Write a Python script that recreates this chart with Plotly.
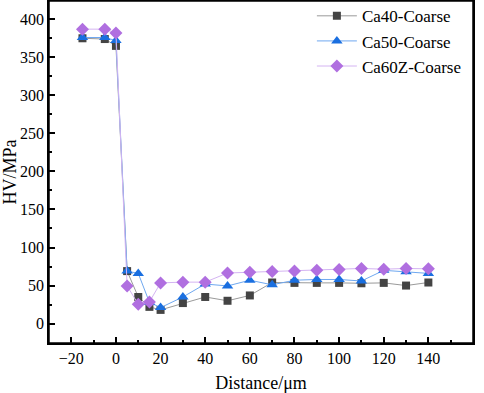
import plotly.graph_objects as go

distance = [-15, -5, 0, 5, 10, 15, 20, 30, 40, 50, 60, 70, 80, 90, 100, 110, 120, 130, 140]
ca40 = [375, 374, 365, 69, 35, 22, 18, 27, 35, 30, 37, 54, 53.5, 53.5, 53.5, 53, 53.5, 50, 54]
ca50 = [376, 376, 372, 69, 66, 28, 21, 35, 52, 49.5, 57, 51, 57, 58, 58, 56, 70, 68, 66]
ca60z = [387, 387, 382, 49.5, 25.5, 28.5, 53.5, 54.5, 54.5, 66.5, 67.5, 68.5, 69, 70, 71, 72.5, 71.5, 72.5, 72]
names = ["Ca40-Coarse", "Ca50-Coarse", "Ca60Z-Coarse"]

fig = go.Figure()
fig.add_trace(go.Scatter(x=distance, y=ca40, name=names[0], mode="lines+markers",
                         line=dict(color="#9a9a9a", width=1),
                         marker=dict(symbol="square", size=8, color="#444444")))
fig.add_trace(go.Scatter(x=distance, y=ca50, name=names[1], mode="lines+markers",
                         line=dict(color="#6fa8f0", width=1),
                         marker=dict(symbol="triangle-up", size=10, color="#1a6fe0")))
fig.add_trace(go.Scatter(x=distance, y=ca60z, name=names[2], mode="lines+markers",
                         line=dict(color="#d4b4f2", width=1),
                         marker=dict(symbol="diamond", size=10, color="#b06fe0")))

font_family = "Liberation Serif"
axis_common = dict(showline=True, linecolor="black", linewidth=1.5, mirror=True,
                   ticks="inside", ticklen=6, tickwidth=1.5, tickcolor="black",
                   showgrid=False, zeroline=False, automargin=False,
                   tickfont=dict(family=font_family, size=16, color="black"))
fig.update_xaxes(range=[-30, 160], tick0=-20, dtick=20,
                 minor=dict(ticks="inside", ticklen=3, tickwidth=1.5, tickcolor="black", dtick=10, tick0=0),
                 title=dict(text="Distance/μm", font=dict(family=font_family, size=18, color="black"), standoff=14),
                 **axis_common)
fig.update_yaxes(range=[-25.5, 424], tick0=0, dtick=50,
                 minor=dict(ticks="inside", ticklen=3, tickwidth=1.5, tickcolor="black", dtick=25, tick0=0),
                 title=dict(text="HV/MPa", font=dict(family=font_family, size=18, color="black"), standoff=8),
                 **axis_common)
fig.add_shape(type="rect", xref="paper", yref="paper", x0=0, x1=1, y0=0, y1=1,
              line=dict(color="black", width=1.5), fillcolor="rgba(0,0,0,0)", layer="above")
fig.update_layout(
    width=484, height=393,
    margin=dict(l=49, r=11, t=1, b=50, autoexpand=False),
    plot_bgcolor="white", paper_bgcolor="white",
    legend=dict(x=0.62, y=1.008, xanchor="left", yanchor="top", bgcolor="rgba(0,0,0,0)",
                font=dict(family=font_family, size=17, color="black"),
                tracegroupgap=0, itemwidth=40),
)
fig.write_html("out.html", config={"displayModeBar": False},
               post_script="document.body.style.margin='0';document.body.style.overflow='hidden';")
